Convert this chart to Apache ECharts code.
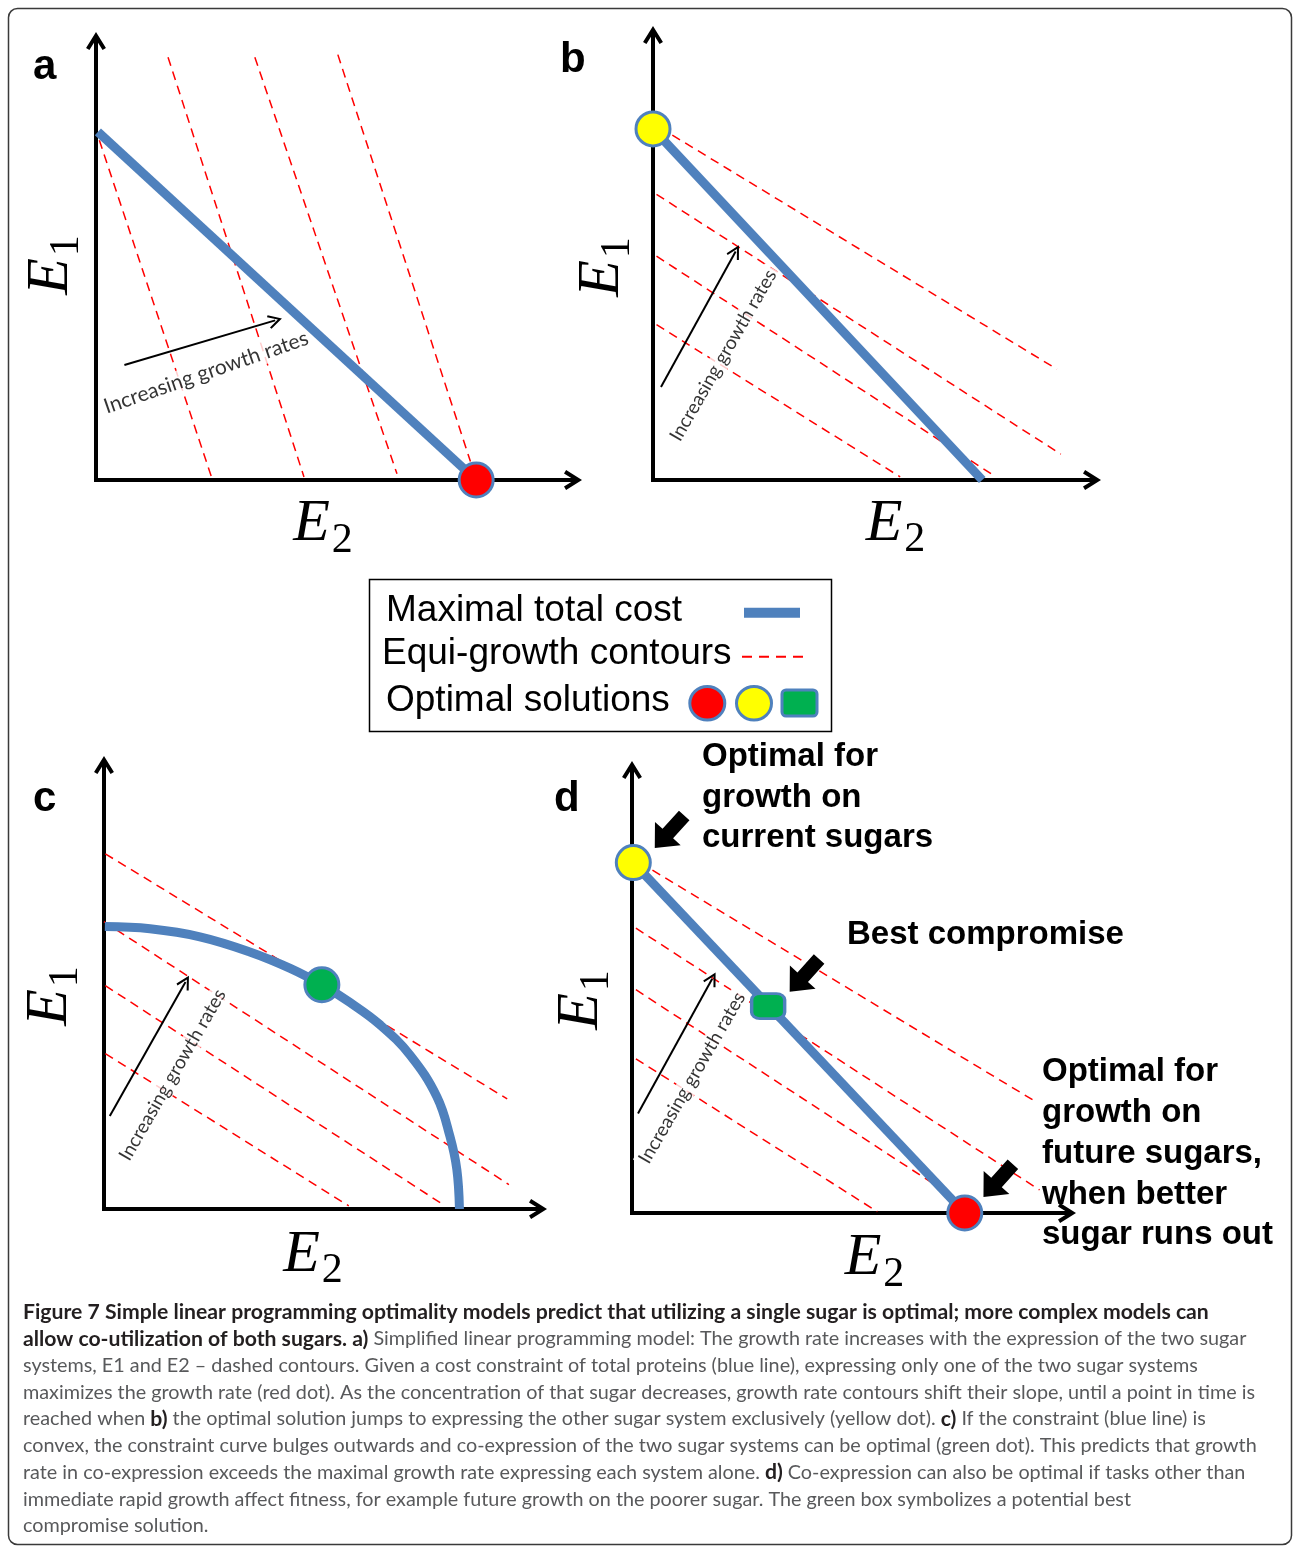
<!DOCTYPE html>
<html><head><meta charset="utf-8">
<script src="https://cdn.jsdelivr.net/npm/echarts@6/dist/echarts.min.js"></script>
<style>html,body{margin:0;padding:0;background:#fff}#c{width:1293px;height:1546px}</style>
</head><body><div id="c"></div>
<script>
// ---------------- data (units: 0..10 along each panel's axes) ----------------
const panelLetters = ['a', 'b', 'c', 'd'];
const growthText = 'Increasing growth rates';

const contoursA = [[[0.07,7.74],[2.42,0.07]], [[1.51,9.63],[4.36,0.07]], [[3.33,9.63],[6.31,0.14]], [[5.07,9.69],[7.85,0.42]]];
const contoursB = [[[0.44,7.75],[9.2,2.49]], [[0.08,6.42],[9.29,0.58]], [[0.08,5.03],[7.81,0.07]], [[0.08,3.49],[5.63,0.07]]];
const contoursC = [[[0.03,8.0],[9.29,2.48]], [[0.0,6.47],[9.33,0.55]], [[0.03,5.03],[7.86,0.07]], [[0.03,3.5],[5.64,0.07]]];
const contoursD = [[[0.47,7.74],[9.32,2.49]], [[0.09,6.43],[9.37,0.52]], [[0.09,5.04],[7.96,0.0]], [[0.09,3.48],[5.64,0.03]]];

const constraintA = [[0.04,7.93],[7.97,0]];
const constraintB = [[0,7.89],[7.5,0]];
const constraintC = [[0.02,6.36],[1.06,6.31],[2.21,6.13],[3.36,5.79],[4.29,5.42],[5.02,5.05],[5.67,4.65],[6.36,4.15],[7.05,3.47],[7.67,2.53],[7.97,1.64],[8.13,0.89],[8.19,0]];
const constraintD = [[0.03,7.91],[7.65,0]];

const growthArrowA = [[0.595,2.62],[3.757,3.636]];
const growthArrowB = [[0.182,2.09],[1.882,5.137]];
const growthArrowC = [[0.134,2.095],[1.878,5.115]];
const growthArrowD = [[0.138,2.246],[1.844,5.289]];

const growthLabelA = [2.31,2.45];
const growthLabelB = [1.60,2.80];
const growthLabelC = [1.58,3.02];
const growthLabelD = [1.38,3.05];

const redDotsA = [[7.97,0]];
const yellowDotsB = [[0,7.89]];
const greenDotsC = [[5.02,5.05]];
const yellowDotsD = [[0.03,7.91]];
const greenBoxesD = [[3.13,4.67]];
const redDotsD = [[7.65,0]];
const pointerArrowsD = [[0.862,8.606],[3.963,5.365],[8.418,0.73]];

const legendLabels = ['Maximal total cost', 'Equi-growth contours', 'Optimal solutions'];
const annotCurrent = 'Optimal for\ngrowth on\ncurrent sugars';
const annotBest = 'Best compromise';
const annotFuture = 'Optimal for\ngrowth on\nfuture sugars,\nwhen better\nsugar runs out';

const captionLines = [
 [['b','Figure 7 Simple linear programming optimality models predict that utilizing a single sugar is optimal; more complex models can']],
 [['b','allow co-utilization of both sugars. a)'],['r',' Simplified linear programming model: The growth rate increases with the expression of the two sugar']],
 [['r','systems, E1 and E2 – dashed contours. Given a cost constraint of total proteins (blue line), expressing only one of the two sugar systems']],
 [['r','maximizes the growth rate (red dot). As the concentration of that sugar decreases, growth rate contours shift their slope, until a point in time is']],
 [['r','reached when '],['b','b)'],['r',' the optimal solution jumps to expressing the other sugar system exclusively (yellow dot). '],['b','c)'],['r',' If the constraint (blue line) is']],
 [['r','convex, the constraint curve bulges outwards and co-expression of the two sugar systems can be optimal (green dot). This predicts that growth']],
 [['r','rate in co-expression exceeds the maximal growth rate expressing each system alone. '],['b','d)'],['r',' Co-expression can also be optimal if tasks other than']],
 [['r','immediate rapid growth affect fitness, for example future growth on the poorer sugar. The green box symbolizes a potential best']],
 [['r','compromise solution.']]
];

// ---------------- styling / layout ----------------
const BLUE = '#4f81bd';
const RED = '#ff0000';
const chevronAxis = 'path://M0,16 L10,0 L20,16 L16.61,18.12 L10,7.55 L3.39,18.12 Z';
const chevronThin = 'path://M0,12 L7,0 L14,12 L12.27,13.01 L7,3.97 L1.73,13.01 Z';
const blockArrow = 'path://M0,19.5 L19.5,0 L19.5,11.5 L44,11.5 L44,27.5 L19.5,27.5 L19.5,39 Z';

const gridBoxes = [
  {left: 96, top: 41, width: 477, height: 439},
  {left: 653, top: 35, width: 439, height: 445},
  {left: 104, top: 765, width: 434, height: 444},
  {left: 632, top: 770, width: 435, height: 443}
];
const xNameGap = [14.5, 14, 16.3, 15.5];
const xNamePad = [[0,23,0,0],[0,0,0,46],[0,16,0,0],[0,0,0,50]];
const yNameGap = [15, 21, 24, 21];
const yNamePad = [[0,9,0,0],[0,19,0,0],[0,18,0,0],[0,17,0,0]];
const labelRot = [19, 60, 60, 60];
const labelSize = [21, 19, 19, 19];

const nameRich = {
  e: {fontFamily: 'Liberation Serif', fontStyle: 'italic', fontSize: 60, lineHeight: 60, verticalAlign: 'top', color: '#000'},
  s: {fontFamily: 'Liberation Serif', fontSize: 42, lineHeight: 42, verticalAlign: 'top', padding: [25, 0, 0, 2], color: '#000'}
};

function axisLine() {
  return {show: true, onZero: false, symbol: ['none', chevronAxis], symbolSize: [20, 18],
    lineStyle: {color: '#000', width: 4, cap: 'square'}};
}
const xAxes = gridBoxes.map((g, i) => ({
  gridIndex: i, type: 'value', min: 0, max: 10,
  axisLine: axisLine(), axisTick: {show: false}, axisLabel: {show: false}, splitLine: {show: false},
  name: '{e|E}{s|2}', nameLocation: 'middle', nameGap: xNameGap[i],
  nameTextStyle: {rich: nameRich, padding: xNamePad[i]}
}));
const yAxes = gridBoxes.map((g, i) => ({
  gridIndex: i, type: 'value', min: 0, max: 10,
  axisLine: axisLine(), axisTick: {show: false}, axisLabel: {show: false}, splitLine: {show: false},
  name: '{e|E}{s|1}', nameLocation: 'middle', nameGap: yNameGap[i],
  nameTextStyle: {rich: nameRich, padding: yNamePad[i]}
}));

const series = [];
const contours = [contoursA, contoursB, contoursC, contoursD];
const arrows = [growthArrowA, growthArrowB, growthArrowC, growthArrowD];
const gLabels = [growthLabelA, growthLabelB, growthLabelC, growthLabelD];

contours.forEach((set, i) => {
  series.push({type: 'lines', coordinateSystem: 'cartesian2d', xAxisIndex: i, yAxisIndex: i,
    data: set.map(c => ({coords: c})), silent: true, clip: false, z: 2,
    lineStyle: {color: RED, width: 1.5, type: [9, 6], opacity: 1}});
  series.push({type: 'scatter', xAxisIndex: i, yAxisIndex: i, data: [gLabels[i]], symbolSize: 0.1,
    itemStyle: {color: 'rgba(0,0,0,0)'}, silent: true, clip: false, z: 3,
    label: {show: true, position: 'inside', rotate: labelRot[i], formatter: growthText,
      fontFamily: 'Lato', fontSize: labelSize[i], color: '#000', backgroundColor: '#fff', padding: [1, 3]}});
  series.push({type: 'lines', coordinateSystem: 'cartesian2d', xAxisIndex: i, yAxisIndex: i,
    data: [{coords: arrows[i]}], silent: true, clip: false, z: 5,
    symbol: ['none', chevronThin], symbolSize: 14,
    lineStyle: {color: '#000', width: 2, opacity: 1}});
});

[[0, constraintA], [1, constraintB], [3, constraintD]].forEach(([i, d]) => {
  series.push({type: 'lines', coordinateSystem: 'cartesian2d', xAxisIndex: i, yAxisIndex: i,
    data: [{coords: d}], silent: true, clip: false, z: 4,
    lineStyle: {color: BLUE, width: 9, opacity: 1}});
});
series.push({type: 'line', xAxisIndex: 2, yAxisIndex: 2, data: constraintC, smooth: 0.4, showSymbol: false,
  silent: true, clip: false, z: 4, lineStyle: {color: BLUE, width: 9}});

function dots(i, data, color, symbol, size) {
  series.push({type: 'scatter', xAxisIndex: i, yAxisIndex: i, data: data, symbol: symbol, symbolSize: size,
    silent: true, clip: false, z: 6,
    itemStyle: {color: color, borderColor: BLUE, borderWidth: 3, opacity: 1}});
}
dots(0, redDotsA, '#ff0000', 'circle', 34);
dots(1, yellowDotsB, '#ffff00', 'circle', 34);
dots(2, greenDotsC, '#00b050', 'circle', 34);
dots(3, yellowDotsD, '#ffff00', 'circle', 34);
dots(3, redDotsD, '#ff0000', 'circle', 34);
dots(3, greenBoxesD, '#00b050', 'roundRect', [33, 25]);
series.push({type: 'scatter', xAxisIndex: 3, yAxisIndex: 3, data: pointerArrowsD, symbol: blockArrow,
  symbolSize: [44, 39], symbolKeepAspect: true, symbolRotate: 48, silent: true, clip: false, z: 7,
  itemStyle: {color: '#000', opacity: 1}});

// ---------------- graphic (frame, letters, legend, notes, caption) ----------------
const graphic = [];
graphic.push({type: 'rect', shape: {x: 8.5, y: 8.5, width: 1283, height: 1536, r: 9},
  style: {fill: 'none', stroke: '#3a3a3a', lineWidth: 1.5}, silent: true, z: 0});
const letterPos = [[33, 67], [560, 60.5], [33, 799], [554, 799.5]];
panelLetters.forEach((t, i) => graphic.push({type: 'text', x: letterPos[i][0], y: letterPos[i][1],
  style: {text: t, fontFamily: 'Liberation Sans', fontWeight: 'bold', fontSize: 42, fill: '#000', verticalAlign: 'middle'}, z: 10}));

// legend box
graphic.push({type: 'rect', shape: {x: 369.5, y: 579.5, width: 462, height: 152},
  style: {fill: '#fff', stroke: '#000', lineWidth: 1.5}, z: 10});
const legY = [611, 654, 701];
const legX = [386, 382, 386];
legendLabels.forEach((t, i) => graphic.push({type: 'text', x: legX[i], y: legY[i],
  style: {text: t, fontFamily: 'Liberation Sans', fontSize: 37, fill: '#000', verticalAlign: 'middle'}, z: 11}));
graphic.push({type: 'line', shape: {x1: 744, y1: 612.7, x2: 800, y2: 612.7}, style: {stroke: BLUE, lineWidth: 10}, z: 11});
graphic.push({type: 'line', shape: {x1: 742, y1: 656.7, x2: 806, y2: 656.7}, style: {stroke: RED, lineWidth: 2, lineDash: [10, 7]}, z: 11});
graphic.push({type: 'ellipse', shape: {cx: 707.3, cy: 703.3, rx: 17.5, ry: 16.8}, style: {fill: '#ff0000', stroke: BLUE, lineWidth: 3}, z: 11});
graphic.push({type: 'ellipse', shape: {cx: 754, cy: 703.3, rx: 17.5, ry: 16.8}, style: {fill: '#ffff00', stroke: BLUE, lineWidth: 3}, z: 11});
graphic.push({type: 'rect', shape: {x: 782, y: 690, width: 35, height: 26, r: 4}, style: {fill: '#00b050', stroke: BLUE, lineWidth: 3}, z: 11});

// panel d annotations
const annStyle = {fontFamily: 'Liberation Sans', fontWeight: 'bold', fontSize: 33, fill: '#000'};
graphic.push({type: 'text', x: 702, y: 737, style: Object.assign({text: annotCurrent, lineHeight: 40.5, verticalAlign: 'top'}, annStyle), z: 10});
graphic.push({type: 'text', x: 847, y: 934.5, style: Object.assign({text: annotBest, verticalAlign: 'middle'}, annStyle), z: 10});
graphic.push({type: 'text', x: 1042, y: 1052, style: Object.assign({text: annotFuture, lineHeight: 40.7, verticalAlign: 'top'}, annStyle), z: 10});

// caption
captionLines.forEach((segs, i) => {
  const txt = segs.map(s => '{' + s[0] + '|' + s[1] + '}').join('');
  graphic.push({type: 'text', x: 23, y: 1312 + 26.75 * i,
    style: {text: txt, fontFamily: 'Lato', fontSize: 19.8, verticalAlign: 'middle',
      rich: {b: {fontFamily: 'Lato', fontWeight: 'bold', fontSize: 21.2, fill: '#231f20'},
             r: {fontFamily: 'Lato', fontSize: 19.8, fill: '#58595b'}}}, z: 10});
});

const chart = echarts.init(document.getElementById('c'));
chart.setOption({
  animation: false,
  backgroundColor: '#fff',
  grid: gridBoxes.map(g => Object.assign({outerBoundsMode: 'none', containLabel: false}, g)),
  xAxis: xAxes,
  yAxis: yAxes,
  series: series,
  graphic: graphic
});
</script>
</body></html>
